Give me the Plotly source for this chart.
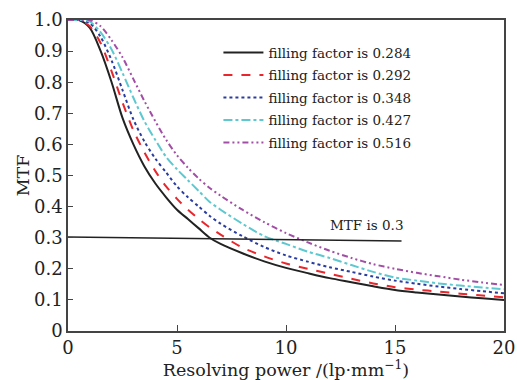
import plotly.graph_objects as go

x_vals = [0, 0.5, 1.0, 1.5, 2.0, 2.5, 3.0, 3.5, 4.0, 4.5, 5.0, 5.5, 6.0, 6.5, 7.0,
          8, 9, 10, 11, 12, 13, 14, 15, 16, 17, 18, 19, 20]

mtf_0284 = [1.0, 1.0, 0.975, 0.90, 0.80, 0.685, 0.60, 0.53, 0.475, 0.43, 0.39, 0.36, 0.33, 0.30, 0.28,
            0.25, 0.224, 0.203, 0.186, 0.170, 0.157, 0.144, 0.132, 0.124, 0.117, 0.111, 0.105, 0.100]
mtf_0292 = [1.0, 1.0, 0.98, 0.925, 0.835, 0.735, 0.645, 0.575, 0.515, 0.465, 0.425, 0.39, 0.36, 0.333, 0.31,
            0.268, 0.24, 0.217, 0.20, 0.184, 0.168, 0.153, 0.141, 0.133, 0.127, 0.12, 0.114, 0.108]
mtf_0348 = [1.0, 1.0, 0.99, 0.945, 0.87, 0.775, 0.68, 0.61, 0.555, 0.51, 0.465, 0.43, 0.40, 0.37, 0.345,
            0.305, 0.27, 0.243, 0.223, 0.205, 0.19, 0.175, 0.162, 0.152, 0.143, 0.135, 0.128, 0.121]
mtf_0427 = [1.0, 1.0, 0.995, 0.96, 0.905, 0.83, 0.75, 0.675, 0.615, 0.56, 0.52, 0.485, 0.45, 0.415, 0.39,
            0.345, 0.305, 0.28, 0.255, 0.235, 0.212, 0.19, 0.172, 0.162, 0.153, 0.146, 0.14, 0.134]
mtf_0516 = [1.0, 1.0, 1.0, 0.98, 0.935, 0.88, 0.81, 0.74, 0.675, 0.615, 0.565, 0.525, 0.49, 0.46, 0.435,
            0.39, 0.35, 0.315, 0.285, 0.258, 0.235, 0.215, 0.20, 0.187, 0.176, 0.165, 0.156, 0.148]

ref_x = [0, 15.3]
ref_y = [0.302, 0.289]

names = ["filling factor is 0.284", "filling factor is 0.292", "filling factor is 0.348",
         "filling factor is 0.427", "filling factor is 0.516"]
series = [mtf_0284, mtf_0292, mtf_0348, mtf_0427, mtf_0516]
colors = ["#222222", "#e8262b", "#2a3c9e", "#5ec8d0", "#a24ea6"]
dashes = ["solid", "dash", "dot", "dashdot", "6px,3px,2px,3px,2px,3px"]

fig = go.Figure()
for i, (nm, ys, c, d) in enumerate(zip(names, series, colors, dashes)):
    fig.add_trace(go.Scatter(x=x_vals, y=ys, mode="lines", name=nm, legendgroup=f"g{i}",
                             line=dict(color=c, width=2, dash=d, shape="spline", smoothing=0.8)))

fig.add_trace(go.Scatter(x=ref_x, y=ref_y, mode="lines", showlegend=False,
                         line=dict(color="#222222", width=1.5)))
fig.add_annotation(x=13.7, y=0.308, text="MTF is 0.3", showarrow=False,
                   yanchor="bottom", font=dict(family="DejaVu Serif", size=13.5, color="#222"))

serif = "DejaVu Serif"
fig.update_layout(
    width=517, height=380,
    margin=dict(l=68, r=13, t=20, b=49),
    paper_bgcolor="white", plot_bgcolor="white",
    font=dict(family=serif, color="#222"),
    legend=dict(x=0.345, y=0.945, xanchor="left", yanchor="top", itemwidth=40,
                bgcolor="rgba(0,0,0,0)", font=dict(family=serif, size=13.5, color="#222"),
                tracegroupgap=2),
    xaxis=dict(range=[0, 20], tickvals=[0, 5, 10, 15, 20], ticks="inside", ticklen=6,
               tickcolor="#444", showline=True, linecolor="#444", linewidth=1.5, mirror=True,
               showgrid=False, zeroline=False, tickfont=dict(size=18), automargin=False,
               title=dict(text="Resolving power /(lp·mm<sup>−1</sup>)", font=dict(size=17.5), standoff=0)),
    yaxis=dict(range=[0, 1.0], tickvals=[0, 0.1, 0.2, 0.3, 0.4, 0.5, 0.6, 0.7, 0.8, 0.9, 1.0],
               ticktext=["0", "0.1", "0.2", "0.3", "0.4", "0.5", "0.6", "0.7", "0.8", "0.9", "1.0"],
               ticks="inside", ticklen=5, tickcolor="#444", automargin=False,
               showline=True, linecolor="#444", linewidth=1.5, mirror=True,
               showgrid=False, zeroline=False, tickfont=dict(size=18),
               title=dict(text="MTF", font=dict(size=17.5), standoff=0)),
)

fig.write_html("out.html")
